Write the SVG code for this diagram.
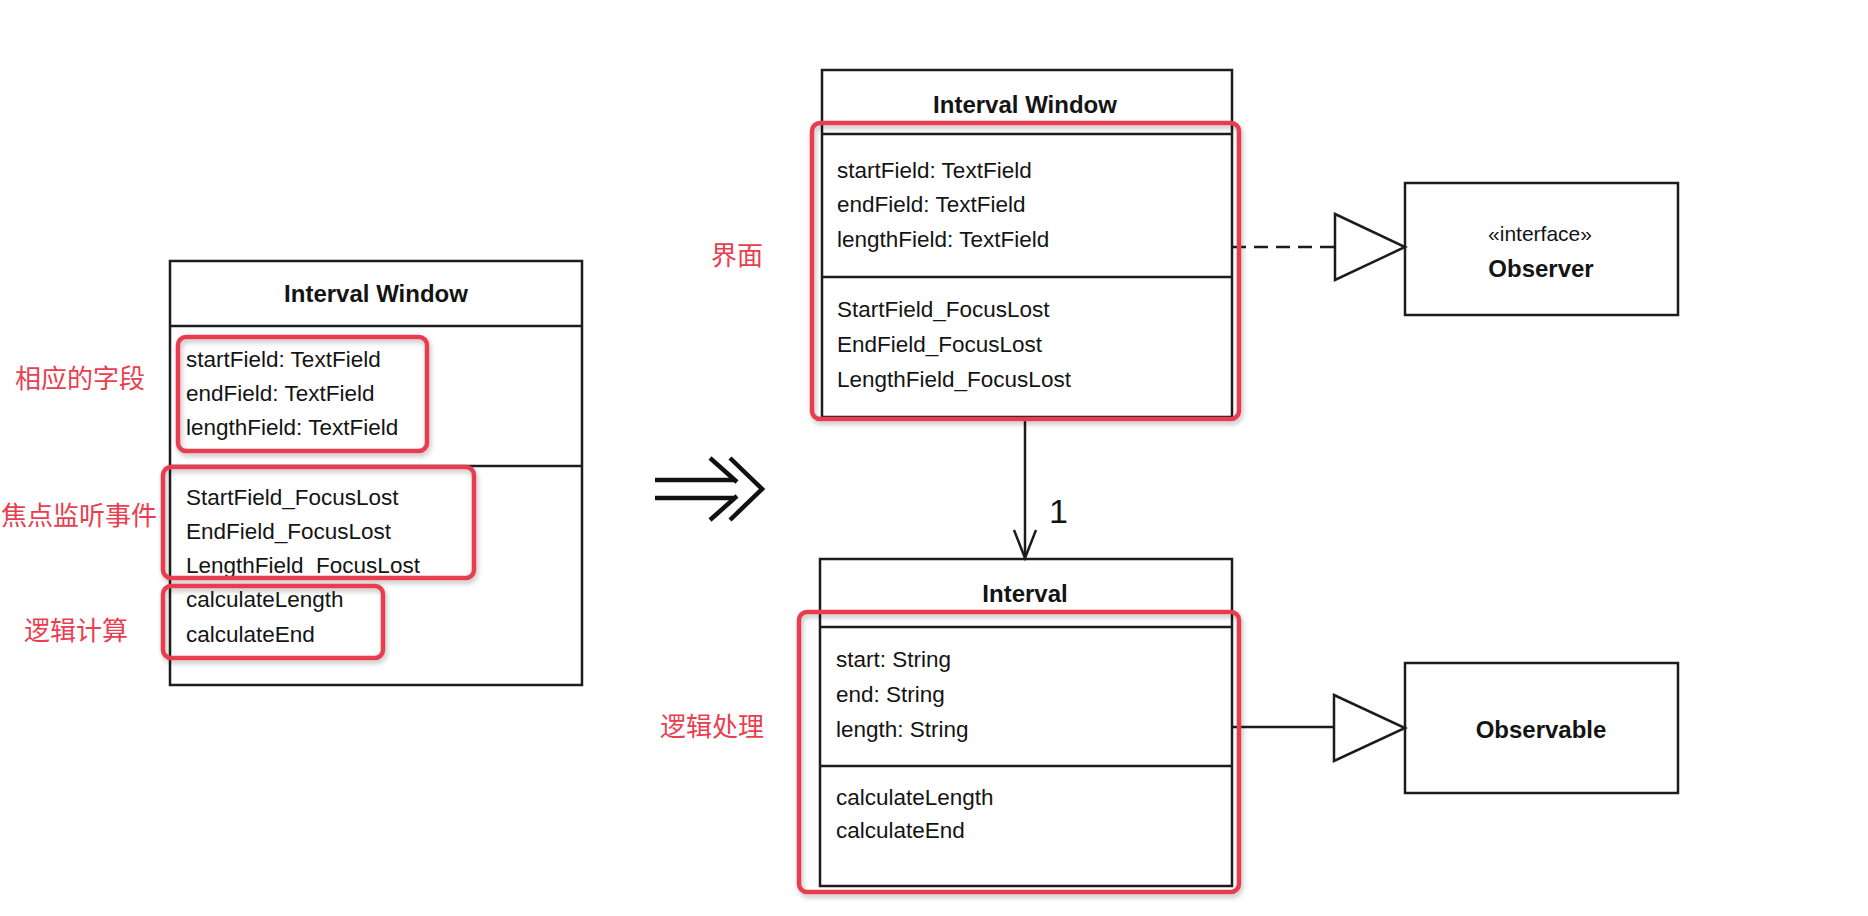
<svg xmlns="http://www.w3.org/2000/svg" width="1868" height="916" viewBox="0 0 1868 916">
  <defs>
    <style>
      .box { fill: #ffffff; stroke: #1c1c1c; stroke-width: 2.5; }
      .div { stroke: #1c1c1c; stroke-width: 2.5; fill: none; }
      .title { font-family: "Liberation Sans", Arial, sans-serif; font-weight: bold; font-size: 24px; fill: #141414; text-anchor: middle; }
      .item { font-family: "Liberation Sans", Arial, sans-serif; font-size: 22.5px; fill: #141414; }
      .stereo { font-family: "Liberation Sans", Arial, sans-serif; font-size: 21px; fill: #141414; text-anchor: middle; }
      .hl { fill: none; stroke: #e83e4f; stroke-width: 4.5; filter: url(#shadow); }
      .note { font-family: "Noto Sans CJK SC", "Noto Sans CJK JP", sans-serif; font-size: 26px; fill: #e83e4f; }
      .conn { stroke: #1c1c1c; stroke-width: 2.5; fill: none; }
      .tri { fill: #ffffff; stroke: #1c1c1c; stroke-width: 2.5; stroke-linejoin: miter; }
      .big { stroke: #111111; stroke-width: 4.5; fill: none; stroke-linecap: butt; }
    </style>
    <filter id="shadow" x="-10%" y="-10%" width="120%" height="130%">
      <feDropShadow dx="1.5" dy="3" stdDeviation="2.5" flood-color="#000000" flood-opacity="0.25"/>
    </filter>
  </defs>

  <rect width="1868" height="916" fill="#ffffff"/>

  <!-- Left: original Interval Window -->
  <g id="left-interval-window">
    <rect class="box" x="170" y="261" width="412" height="424"/>
    <line class="div" x1="170" y1="326" x2="582" y2="326"/>
    <line class="div" x1="170" y1="466" x2="582" y2="466"/>
    <text class="title" x="376" y="302">Interval Window</text>
    <text class="item" x="186" y="367">startField: TextField</text>
    <text class="item" x="186" y="401">endField: TextField</text>
    <text class="item" x="186" y="435">lengthField: TextField</text>
    <text class="item" x="186" y="505">StartField_FocusLost</text>
    <text class="item" x="186" y="539">EndField_FocusLost</text>
    <text class="item" x="186" y="573">LengthField_FocusLost</text>
    <text class="item" x="186" y="607">calculateLength</text>
    <text class="item" x="186" y="642">calculateEnd</text>
  </g>

  <!-- Right: Interval Window -->
  <g id="right-interval-window">
    <rect class="box" x="822" y="70" width="410" height="347"/>
    <line class="div" x1="822" y1="134" x2="1232" y2="134"/>
    <line class="div" x1="822" y1="277" x2="1232" y2="277"/>
    <text class="title" x="1025" y="113">Interval Window</text>
    <text class="item" x="837" y="178">startField: TextField</text>
    <text class="item" x="837" y="212">endField: TextField</text>
    <text class="item" x="837" y="247">lengthField: TextField</text>
    <text class="item" x="837" y="317">StartField_FocusLost</text>
    <text class="item" x="837" y="352">EndField_FocusLost</text>
    <text class="item" x="837" y="387">LengthField_FocusLost</text>
  </g>

  <!-- Interval -->
  <g id="interval">
    <rect class="box" x="820" y="559" width="412" height="327"/>
    <line class="div" x1="820" y1="627" x2="1232" y2="627"/>
    <line class="div" x1="820" y1="766" x2="1232" y2="766"/>
    <text class="title" x="1025" y="602">Interval</text>
    <text class="item" x="836" y="667">start: String</text>
    <text class="item" x="836" y="702">end: String</text>
    <text class="item" x="836" y="737">length: String</text>
    <text class="item" x="836" y="805">calculateLength</text>
    <text class="item" x="836" y="838">calculateEnd</text>
  </g>

  <!-- Observer -->
  <g id="observer">
    <rect class="box" x="1405" y="183" width="273" height="132"/>
    <text class="stereo" x="1540" y="241">«interface»</text>
    <text class="title" x="1541" y="277">Observer</text>
  </g>

  <!-- Observable -->
  <g id="observable">
    <rect class="box" x="1405" y="663" width="273" height="130"/>
    <text class="title" x="1541" y="738">Observable</text>
  </g>

  <!-- Connectors -->
  <g id="connectors">
    <line class="conn" x1="1025" y1="417" x2="1025" y2="558"/>
    <polyline class="conn" points="1014,530 1025,558 1036,530"/>
    <text x="1049" y="523" style="font-family: 'Liberation Sans', Arial, sans-serif; font-size: 34px; fill: #141414;">1</text>

    <line class="conn" x1="1232" y1="247" x2="1335" y2="247" stroke-dasharray="14 8"/>
    <polygon class="tri" points="1335,214 1405,247 1335,280"/>

    <line class="conn" x1="1232" y1="727" x2="1334" y2="727"/>
    <polygon class="tri" points="1334,695 1405,728 1334,761"/>
  </g>

  <!-- Transformation arrow -->
  <g id="transform-arrow">
    <line class="big" x1="655" y1="480" x2="735" y2="480"/>
    <line class="big" x1="655" y1="498" x2="735" y2="498"/>
    <polyline class="big" points="710,458 737,482"/>
    <polyline class="big" points="737,496 710,520"/>
    <polyline class="big" points="730,458 762,489 730,520"/>
  </g>

  <!-- Red highlight annotations -->
  <g id="annotations">
    <rect class="hl" x="178" y="337" width="249" height="114" rx="8"/>
    <rect class="hl" x="163" y="467" width="311" height="111" rx="8"/>
    <rect class="hl" x="163" y="586" width="220" height="72" rx="8"/>
    <rect class="hl" x="812" y="123" width="427" height="296" rx="8"/>
    <rect class="hl" x="799" y="612" width="440" height="280" rx="8"/>
    <text class="note" x="15" y="388">相应的字段</text>
    <text class="note" x="1" y="525">焦点监听事件</text>
    <text class="note" x="24" y="640">逻辑计算</text>
    <text class="note" x="711" y="265">界面</text>
    <text class="note" x="660" y="736">逻辑处理</text>
  </g>
</svg>
